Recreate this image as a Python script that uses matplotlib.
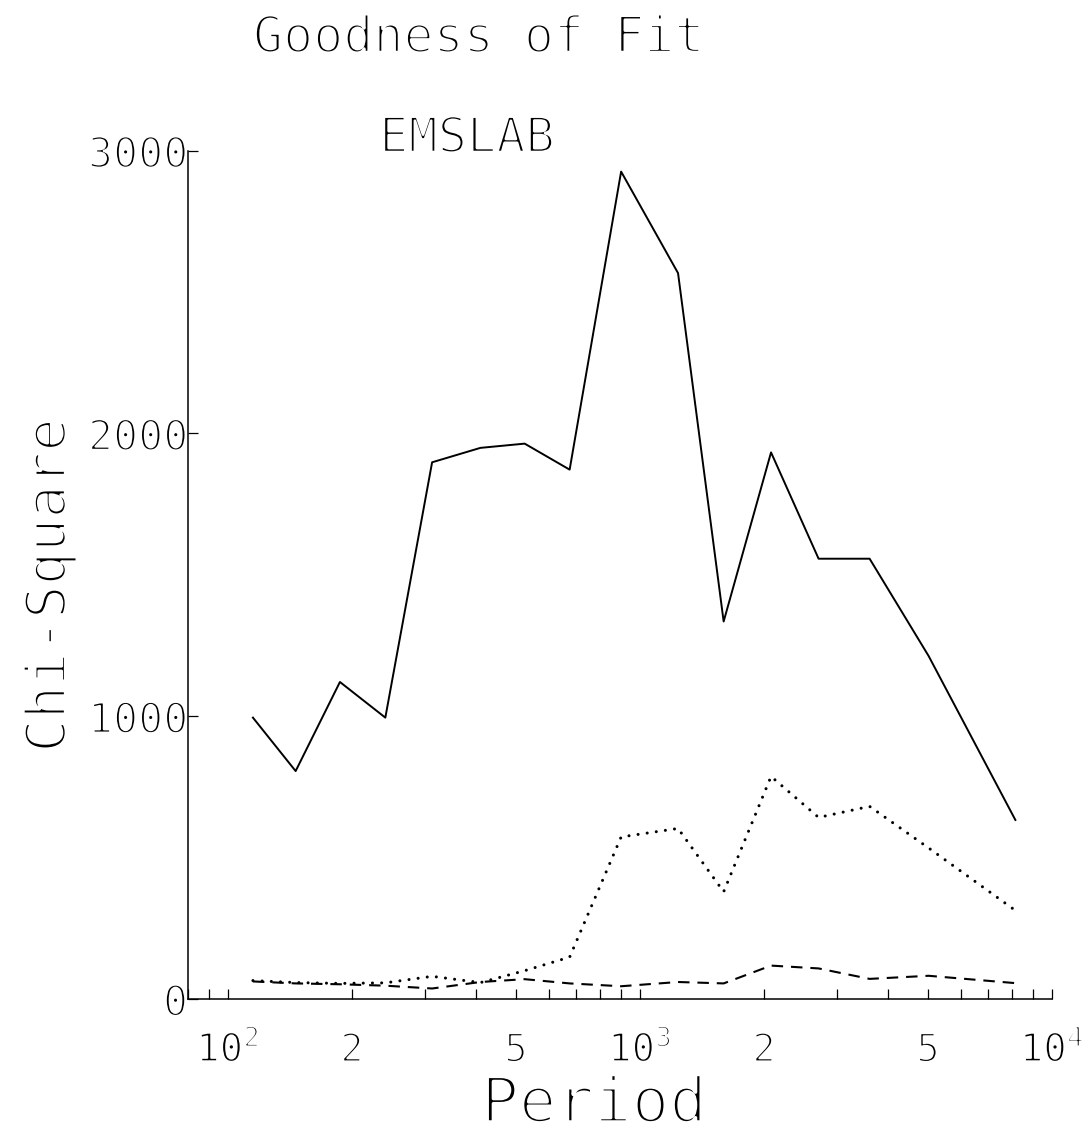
import matplotlib
matplotlib.use("Agg")
import matplotlib.pyplot as plt
import matplotlib.ticker as ticker
import matplotlib.patheffects as pe

# periods (s) and chi-square misfit for three model runs
period = [115, 146, 187, 241, 313, 410, 525, 675, 900, 1237,
          1596, 2080, 2713, 3608, 5017, 8147]
chi_solid = [995, 806, 1121, 995, 1898, 1949, 1964, 1872, 2926, 2567,
             1335, 1933, 1557, 1557, 1213, 633]
chi_dotted = [65, 58, 55, 57, 80, 58, 100, 148, 573, 603,
              379, 787, 642, 681, 534, 313]
chi_dashed = [62, 55, 52, 47, 37, 60, 70, 55, 45, 60,
              55, 118, 108, 71, 82, 56]

x_ticks = [100, 200, 500, 1000, 2000, 5000, 10000]
x_tick_labels = [r"$10^2$", "2", "5", r"$10^3$", "2", "5", r"$10^4$"]
y_ticks = [0, 1000, 2000, 3000]

plt.rcParams["font.family"] = "DejaVu Sans Mono"
plt.rcParams["mathtext.fontset"] = "custom"
plt.rcParams["mathtext.rm"] = "DejaVu Sans Mono"
plt.rcParams["mathtext.it"] = "DejaVu Sans Mono"


def thin(size, k=0.055):
    # white outline drawn over the glyph fill makes a thin plotter-like stroke
    return [pe.Stroke(linewidth=size * k, foreground="white")]


fig = plt.figure(figsize=(10.91, 11.33), dpi=100)
ax = fig.add_axes([0.1723, 0.1183, 0.792, 0.7487])

ax.plot(period, chi_solid, color="black", lw=1.4)
ax.plot(period, chi_dotted, color="black", lw=2.2,
        linestyle=(0, (0.01, 3.0)), dash_capstyle="round")
ax.plot(period, chi_dashed, color="black", lw=1.5,
        linestyle=(0, (5.5, 3.8)))

ax.set_xscale("log")
ax.set_xlim(80, 10000)
ax.set_ylim(0, 3000)

ax.spines["top"].set_visible(False)
ax.spines["right"].set_visible(False)
ax.spines["left"].set_linewidth(1.1)
ax.spines["bottom"].set_linewidth(1.1)

ax.xaxis.set_major_locator(ticker.FixedLocator(x_ticks))
ax.xaxis.set_major_formatter(ticker.FixedFormatter(x_tick_labels))
ax.xaxis.set_minor_locator(ticker.LogLocator(base=10, subs=range(2, 10)))
ax.xaxis.set_minor_formatter(ticker.NullFormatter())
ax.set_yticks(y_ticks)

ax.tick_params(axis="x", which="both", direction="in", length=7.2,
               width=0.9, labelsize=28, pad=45)
ax.tick_params(axis="y", which="both", direction="in", length=7.2,
               width=0.9, labelsize=30, pad=0)
for lbl in ax.get_xticklabels():
    lbl.set_verticalalignment("baseline")
    # the powers of ten carry a smaller exponent, so thin them less
    if "$" in lbl.get_text():
        lbl.set_path_effects(thin(28, 0.046))
    else:
        lbl.set_path_effects(thin(28))
for lbl in ax.get_yticklabels():
    lbl.set_path_effects(thin(30))

ax.set_xlabel("Period", fontsize=45, path_effects=thin(45))
ax.xaxis.label.set_verticalalignment("baseline")
ax.xaxis.set_label_coords(0.47, -0.145)

ax.set_ylabel("Chi-Square", fontsize=40, path_effects=thin(40))
ax.yaxis.set_label_coords(-0.128, 0.487)

fig.text(0.439, 0.954, "Goodness of Fit", fontsize=36,
         ha="center", va="baseline", path_effects=thin(36))
fig.text(0.428, 0.8658, "EMSLAB", fontsize=35,
         ha="center", va="baseline", path_effects=thin(35))

fig.savefig("out.png", dpi=100)
